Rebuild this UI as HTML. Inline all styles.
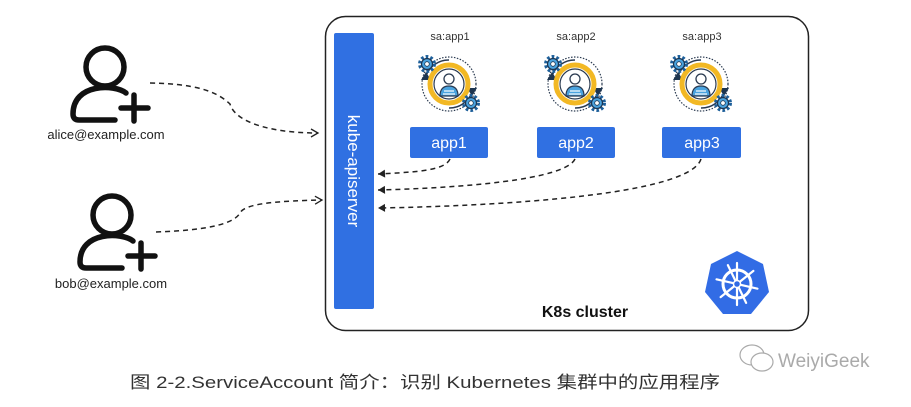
<!DOCTYPE html>
<html><head><meta charset="utf-8"><style>
body{margin:0;background:#fff;width:911px;height:402px;overflow:hidden;font-family:"Liberation Sans","Noto Sans CJK SC",sans-serif}
</style></head><body>
<svg width="911" height="402" viewBox="0 0 911 402" xmlns="http://www.w3.org/2000/svg">
<defs>
<marker id="ar" markerWidth="10" markerHeight="10" refX="8" refY="5" orient="auto" markerUnits="userSpaceOnUse">
<path d="M1,1 L8,5 L1,9" fill="none" stroke="#222" stroke-width="1.3"/></marker>
<marker id="al" markerWidth="10" markerHeight="10" refX="8" refY="5" orient="auto" markerUnits="userSpaceOnUse">
<path d="M1,1 L8,5 L1,9 Z" fill="#222"/></marker>
<g id="gear"><circle r="7" fill="none" stroke="#1d5f9a" stroke-width="4" stroke-dasharray="2.5 2"/><circle r="5.5" fill="#4aa3df" stroke="#1d3550" stroke-width="1.2"/><circle r="2.3" fill="#fff" stroke="#1d3550" stroke-width="0.8"/></g>
<g id="ic">
<circle r="27" fill="none" stroke="#2a3a50" stroke-width="1.2" stroke-dasharray="1.5 1.5"/>
<path d="M-23,-8 A24,24 0 0 1 0,-24" fill="none" stroke="#2a3a50" stroke-width="1.5"/>
<path d="M23,8 A24,24 0 0 1 0,24" fill="none" stroke="#2a3a50" stroke-width="1.5"/>
<path d="M-28,-4 L-23,-12 L-18,-4 Z" fill="#1d3550"/>
<path d="M18,4 L23,12 L28,4 Z" fill="#1d3550"/>
<circle r="19" fill="#fff" stroke="#f2b824" stroke-width="5"/>
<circle r="15" fill="#fff" stroke="#2a3a50" stroke-width="1.2"/>
<circle cy="-5" r="5" fill="#fff" stroke="#2a3a50" stroke-width="1.3"/>
<path d="M-9,12 Q-9,2 0,2 Q9,2 9,12 Z" fill="#4aa3df" stroke="#2a3a50" stroke-width="1.2"/>
<line x1="-5" y1="7" x2="5" y2="7" stroke="#fff" stroke-width="1.2"/><line x1="-6" y1="10" x2="6" y2="10" stroke="#fff" stroke-width="1.2"/>
<use href="#gear" x="-22" y="-20"/><use href="#gear" x="22" y="19"/>
</g>
<g id="person" fill="none" stroke="#111" stroke-width="5.5" stroke-linecap="round">
<circle cx="0" cy="0" r="19"/>
<path d="M21,26 C10,17 -32,16 -32,47 Q-32,53 -26,53 L10,53"/>
<line x1="16" y1="41" x2="43" y2="41"/><line x1="29" y1="28" x2="29" y2="54"/>
</g>
</defs>
<rect x="325.5" y="16.5" width="483" height="314" rx="20" fill="#fff" stroke="#222" stroke-width="1.5"/>
<rect x="334" y="33" width="40" height="276" rx="2" fill="#3070e2"/>
<text transform="translate(348,171) rotate(90)" text-anchor="middle" font-size="17" fill="#fff">kube-apiserver</text>
<g font-size="11" fill="#333" text-anchor="middle"><text x="450" y="40">sa:app1</text><text x="576" y="40">sa:app2</text><text x="702" y="40">sa:app3</text></g>
<use href="#ic" x="449" y="84"/><use href="#ic" x="575" y="84"/><use href="#ic" x="701" y="84"/>
<g fill="#3070e2"><rect x="410" y="127" width="78" height="31" rx="2"/><rect x="537" y="127" width="78" height="31" rx="2"/><rect x="662" y="127" width="79" height="31" rx="2"/></g>
<g font-size="16" fill="#fff" text-anchor="middle"><text x="449" y="148">app1</text><text x="576" y="148">app2</text><text x="702" y="148">app3</text></g>
<g fill="none" stroke="#222" stroke-width="1.5" stroke-dasharray="5 4">
<path d="M450,159 C445,170 420,172 378,174" marker-end="url(#al)"/>
<path d="M575,159 C565,180 460,188 378,190" marker-end="url(#al)"/>
<path d="M701,159 C690,195 500,206 378,208" marker-end="url(#al)"/>
<path d="M150,83 C205,84 220,95 230,104 C235,122 270,133 318,133" marker-end="url(#ar)"/>
<path d="M156,232 C215,230 235,222 240,213 C245,203 280,201 322,200" marker-end="url(#ar)"/>
</g>
<use href="#person" x="105" y="67"/><use href="#person" x="112" y="215"/>
<g font-size="13" fill="#222" text-anchor="middle"><text x="106" y="139">alice@example.com</text><text x="111" y="288">bob@example.com</text></g>
<text x="585" y="317" font-size="16" font-weight="bold" fill="#111" text-anchor="middle">K8s cluster</text>
<g transform="translate(737,284)">
<polygon points="0,-33 26,-20 32,8 14,30 -14,30 -32,8 -26,-20" fill="#326ce5"/>
<circle r="14" stroke="#fff" fill="none" stroke-width="3"/>
<g stroke="#fff" stroke-width="2.2" stroke-linecap="round">
<line x1="0" y1="-21" x2="0" y2="21"/>
<line x1="0" y1="-21" x2="0" y2="21" transform="rotate(51.4)"/>
<line x1="0" y1="-21" x2="0" y2="21" transform="rotate(102.8)"/>
<line x1="0" y1="-21" x2="0" y2="21" transform="rotate(154.2)"/>
</g>
<circle r="3.5" fill="#326ce5" stroke="#fff" stroke-width="1.5"/>
</g>
<text x="130" y="388" font-size="17" fill="#333" textLength="590" lengthAdjust="spacingAndGlyphs">图 2-2.ServiceAccount 简介：识别 Kubernetes 集群中的应用程序</text>
<g fill="none" stroke="#aaa" stroke-width="1.2"><ellipse cx="752" cy="355" rx="12" ry="10"/><ellipse cx="762" cy="362" rx="11" ry="9" fill="#fff"/></g>
<text x="778" y="367" font-size="19" fill="#aaa">WeiyiGeek</text>
</svg>
</body></html>
